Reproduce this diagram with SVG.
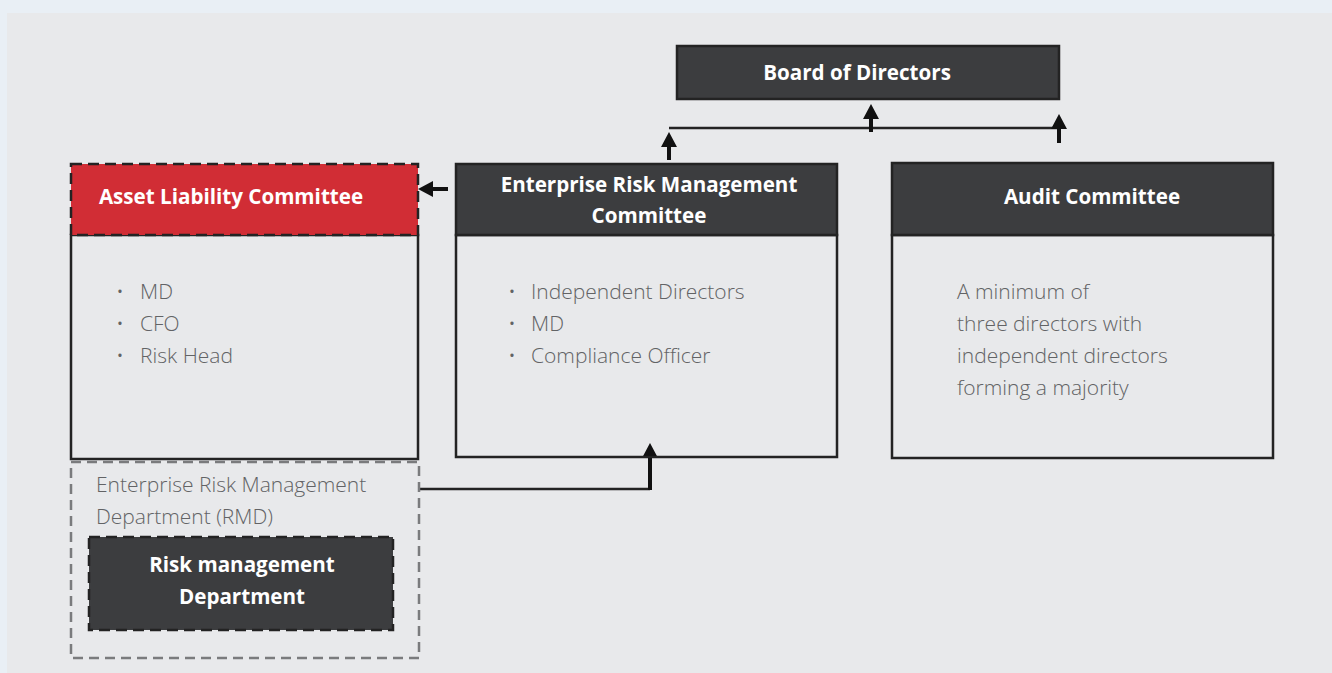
<svg xmlns="http://www.w3.org/2000/svg" width="1332" height="673" viewBox="0 0 1332 673">
<defs>
<style>
.bg{fill:#e9eff5}
.panel{fill:#e8e9eb}
.hdr{fill:#3c3d3f;stroke:#232323;stroke-width:2.5}
.red{fill:#d12d35;stroke:#232323;stroke-width:2.5;stroke-dasharray:11 6}
.body{fill:none;stroke:#232323;stroke-width:2.5}
.dashdark{fill:#3c3d3f;stroke:#232323;stroke-width:2.5;stroke-dasharray:11 6}
.dashgray{fill:none;stroke:#7a7b7d;stroke-width:2.5;stroke-dasharray:10 6}
.line{fill:none;stroke:#232323;stroke-width:2.5}
.stem{fill:none;stroke:#111;stroke-width:4}
.head{fill:#111}
.t{font-family:"Open Sans","Noto Sans",sans-serif;font-weight:700;font-size:20.6px;fill:#ffffff;text-anchor:middle}
.l{font-family:"Open Sans","Noto Sans",sans-serif;font-weight:300;font-size:21px;fill:#626365}
</style>
</defs>
<rect class="bg" x="0" y="0" width="1332" height="673"/>
<rect class="panel" x="7" y="13" width="1325" height="660"/>

<g id="connectors">
<line class="line" x1="669" y1="128" x2="1060" y2="128"/>
<line class="stem" x1="871" y1="117" x2="871" y2="132"/>
<polygon class="head" points="871,104 863,119 879,119"/>
<line class="stem" x1="1059" y1="127" x2="1059" y2="143"/>
<polygon class="head" points="1059,114 1051,129 1067,129"/>
<line class="stem" x1="669" y1="145" x2="669" y2="160"/>
<polygon class="head" points="669,132 661,147 677,147"/>
<line class="stem" x1="431" y1="189" x2="448" y2="189"/>
<polygon class="head" points="418,189 433,181 433,197"/>
<polyline class="line" points="419,489 650,489"/>
<line class="stem" x1="650" y1="456" x2="650" y2="490"/>
<polygon class="head" points="650,443 642,458 658,458"/>
</g>

<g id="board">
<rect class="hdr" x="677" y="46" width="382" height="53"/>
<text class="t" x="857" y="80">Board of Directors</text>
</g>

<g id="alco">
<rect class="body" x="71" y="235" width="347" height="224"/>
<rect class="red" x="71" y="164" width="347" height="71"/>
<text class="t" x="231" y="204">Asset Liability Committee</text>
<text class="l" x="116" y="299">•</text><text class="l" x="140" y="299">MD</text>
<text class="l" x="116" y="331">•</text><text class="l" x="140" y="331">CFO</text>
<text class="l" x="116" y="363">•</text><text class="l" x="140" y="363">Risk Head</text>
</g>

<g id="erm">
<rect class="body" x="456" y="235" width="381" height="222"/>
<rect class="hdr" x="456" y="164" width="381" height="71"/>
<text class="t" x="649" y="192">Enterprise Risk Management</text>
<text class="t" x="649" y="223">Committee</text>
<text class="l" x="508" y="299">•</text><text class="l" x="531" y="299">Independent Directors</text>
<text class="l" x="508" y="331">•</text><text class="l" x="531" y="331">MD</text>
<text class="l" x="508" y="363">•</text><text class="l" x="531" y="363">Compliance Officer</text>
</g>

<g id="audit">
<rect class="body" x="892" y="235" width="381" height="223"/>
<rect class="hdr" x="892" y="163" width="381" height="72"/>
<text class="t" x="1092" y="204">Audit Committee</text>
<text class="l" x="957" y="299">A minimum of</text>
<text class="l" x="957" y="331">three directors with</text>
<text class="l" x="957" y="363">independent directors</text>
<text class="l" x="957" y="395">forming a majority</text>
</g>

<g id="rmd">
<rect class="dashgray" x="71" y="462" width="348" height="196"/>
<text class="l" x="96" y="492">Enterprise Risk Management</text>
<text class="l" x="96" y="524">Department (RMD)</text>
</g>

<g id="riskdept">
<rect class="dashdark" x="89" y="537" width="304" height="93"/>
<text class="t" x="242" y="572">Risk management</text>
<text class="t" x="242" y="604">Department</text>
</g>
</svg>
